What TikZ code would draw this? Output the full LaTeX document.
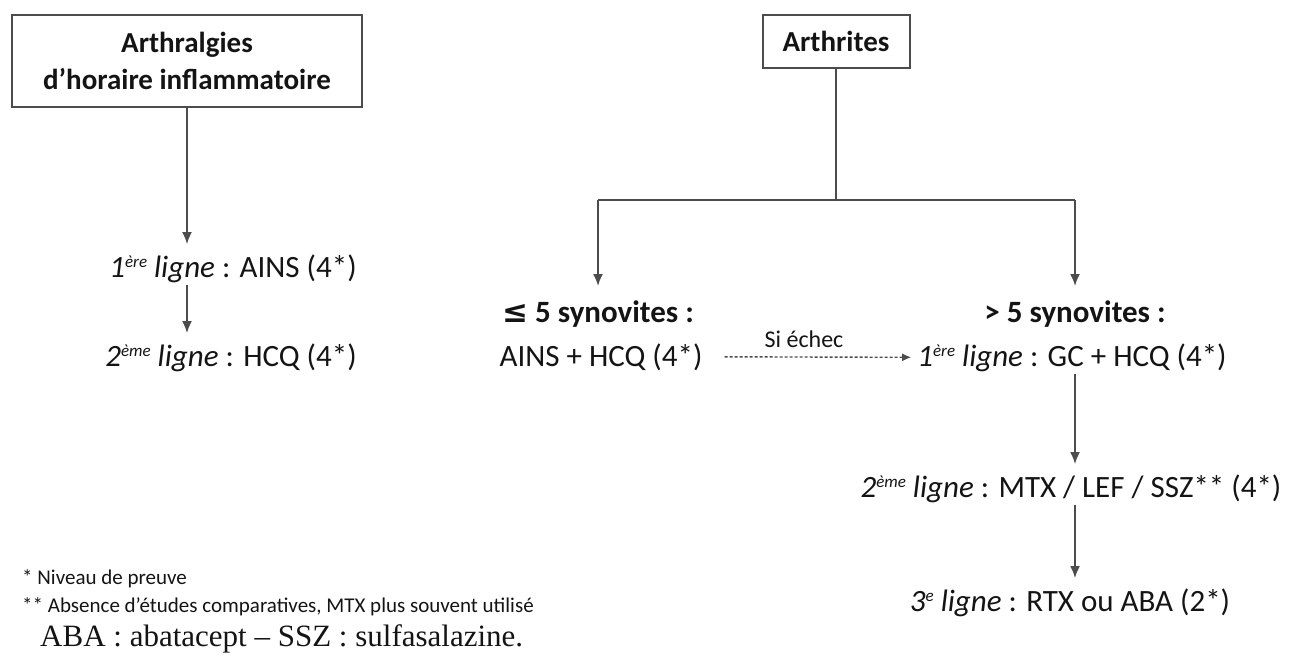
\documentclass[tikz,border=0pt]{standalone}
\usepackage{fontspec}
\setmainfont{Carlito}
\newfontfamily\notefont{Liberation Serif}
\newfontfamily\symfont{DejaVu Sans}
\usetikzlibrary{arrows}
\usetikzlibrary{arrows.meta}
\usetikzlibrary{positioning}
\definecolor{mgrey}{rgb}{0.30, 0.30, 0.30}
\definecolor{mtext}{rgb}{0.08, 0.08, 0.08}
\newcommand{\ligne}[2]{\textit{#1{\fontsize{17}{20}\selectfont\raisebox{0.55em}{#2}} ligne}}

\begin{document}
\begin{tikzpicture}[x=1pt, y=-1pt, text=mtext,
    every node/.style={font=\fontsize{31}{37}\selectfont, inner sep=2pt},
    titlebox/.style={draw=mgrey, line width=2pt, align=center,
      font=\fontsize{29}{37}\selectfont\bfseries},
    txt/.style={anchor=base},
    link/.style={draw=mgrey, line width=2pt},
    arrow/.style={link, -{Latex[length=12pt, width=10pt]}, shorten >=8pt},
    small/.style={font=\fontsize{21}{25}\selectfont}]
    \useasboundingbox (0,0) rectangle (1297,656);

    % left branch
    \node [titlebox, minimum width=350, minimum height=92] (arthr) at (187, 61) {Arthralgies\\d'horaire inflammatoire};
    \node [txt] (ains) at (233, 277) {\ligne{1}{ère} : AINS (4*)};
    \node [txt] (hcq) at (231, 366) {\ligne{2}{ème} : HCQ (4*)};

    \draw [arrow] (arthr.south) -- (arthr.south |- ains.north);
    \draw [arrow] (arthr.south |- ains.south) -- (arthr.south |- hcq.north);

    % right branch
    \node [titlebox, minimum width=147, minimum height=53] (arthrite) at (836, 41.5) {Arthrites};
    \coordinate (fork) at (836, 200);
    \coordinate (forkL) at (598, 200);
    \coordinate (forkR) at (1075, 200);

    \node [txt, font=\fontsize{31}{37}\selectfont\bfseries] (few) at (598, 322) {{\symfont ≤} 5 synovites :};
    \node [txt] (fewtt) at (601, 366) {AINS + HCQ (4*)};
    \node [txt, font=\fontsize{31}{37}\selectfont\bfseries] (many) at (1075, 322) {> 5 synovites :};
    \node [txt] (gc) at (1072, 366) {\ligne{1}{ère} : GC + HCQ (4*)};
    \node [txt] (mtx) at (1071, 497) {\ligne{2}{ème} : MTX / LEF / SSZ** (4*)};
    \node [txt] (rtx) at (1070, 611) {\ligne{3}{e} : RTX ou ABA (2*)};

    \draw [link] (arthrite.south) -- (fork);
    \draw [link] (forkL) -- (forkR);
    \draw [arrow, shorten >=12pt] (forkL) -- (few.north);
    \draw [arrow, shorten >=12pt] (forkR) -- (many.north);
    \draw [link, line width=1.4pt, dash pattern=on 3pt off 2pt, -{Latex[length=9pt, width=8pt]}, shorten >=4pt] (fewtt.east) ++(20,0) coordinate (dashA) -- (gc.west);
    \node [txt, small, font=\fontsize{24}{28}\selectfont] (echec) at (804, 347) {Si échec};
    \draw [arrow] (forkR |- gc.south) -- (forkR |- mtx.north);
    \draw [arrow] (forkR |- mtx.south) -- (forkR |- rtx.north);

    % notes
    \node [txt, small, anchor=base west] (note1) at (20, 584) {* Niveau de preuve};
    \node [txt, small, anchor=base west] (note2) at (20, 612) {** Absence d'études comparatives, MTX plus souvent utilisé};
    \node [txt, anchor=base west, font=\fontsize{31}{36}\selectfont\notefont] (note3) at (38, 646) {ABA : abatacept – SSZ : sulfasalazine.};
\end{tikzpicture}
\end{document}
